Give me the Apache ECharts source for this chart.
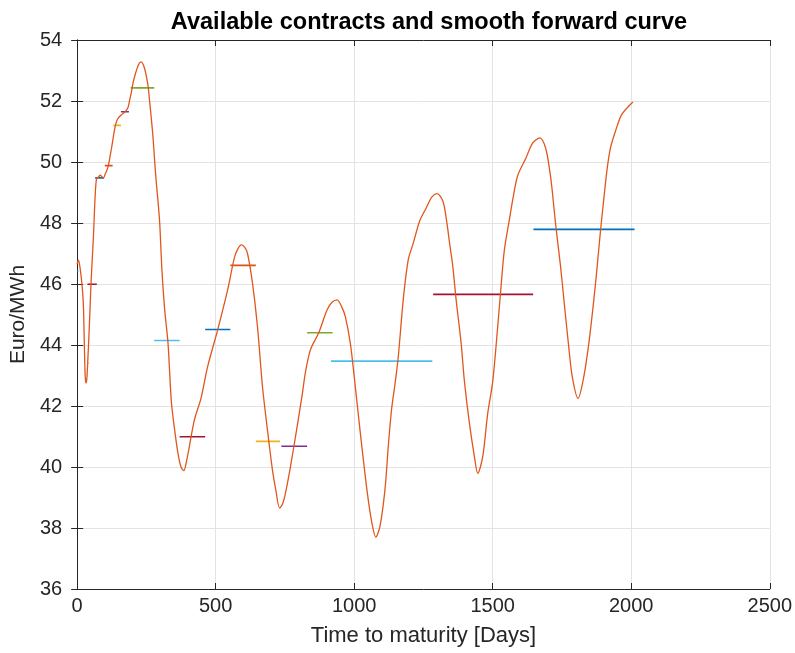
<!DOCTYPE html>
<html>
<head>
<meta charset="utf-8">
<script src="https://cdn.jsdelivr.net/npm/echarts@6/dist/echarts.min.js"></script>
<style>html,body{margin:0;padding:0;background:#fff;}#c{width:795px;height:653px;}</style>
</head>
<body>
<div id="c"></div>
<script>
// Smooth forward curve (days to maturity, EUR/MWh)
const curveDays = [0,4,9,15,20,23,26,29,32,35,39,43,47,50,55,59,63,67,71,77,83,89,95,101,107,113,119,125,131,137,143,149,160,170,178,184,190,196,202,208,214,222,230,237,244,250,256,262,268,274,280,285,291,298,306,316,328,340,352,364,375,385,395,405,423,447,471,507,543,567,580,593,605,615,633,651,669,687,705,717,731,742,752,770,788,812,824,842,872,902,920,938,955,968,986,1000,1021,1046,1064,1078,1093,1111,1123,1135,1147,1159,1177,1195,1213,1237,1261,1280,1299,1320,1333,1345,1356,1368,1386,1398,1416,1434,1446,1464,1482,1500,1518,1530,1542,1560,1572,1590,1620,1644,1670,1691,1706,1715,1727,1745,1757,1773,1787,1808,1829,1847,1865,1877,1889,1900,1912,1925,1943,1966,2006];
const curvePrice = [46.65,46.78,46.62,46.2,45.7,45.2,44.0,43.0,42.75,42.9,43.6,44.4,45.3,46.0,46.9,47.6,48.5,49.2,49.48,49.5,49.57,49.52,49.48,49.6,49.72,49.9,50.2,50.5,50.85,51.15,51.35,51.45,51.55,51.62,51.7,51.8,52.05,52.3,52.6,52.82,53.0,53.2,53.28,53.22,53.05,52.8,52.5,51.95,51.4,50.8,50.0,49.4,48.8,48.0,46.46,45.15,44.06,42.15,41.21,40.45,40.0,39.88,40.2,40.67,41.54,42.25,43.29,44.49,45.8,46.84,47.15,47.28,47.2,47.0,46.02,44.6,42.63,41.21,39.9,39.25,38.65,38.8,39.14,40.01,40.99,42.35,43.1,43.84,44.4,45.15,45.4,45.48,45.25,44.93,44.06,42.97,41.21,39.25,38.16,37.7,38.05,39.25,40.67,41.9,42.7,43.6,45.48,46.79,47.33,48.08,48.51,48.85,48.96,48.72,48.1,47.3,46.57,45.48,44.06,42.8,41.43,40.34,39.79,40.34,41.76,42.8,44.6,45.91,47.11,48.1,48.75,49.55,50.13,50.62,50.79,50.46,49.7,49.05,47.96,46.57,45.48,44.06,42.97,42.25,42.97,44.06,45.48,46.57,47.74,48.7,49.7,50.46,51.01,51.56,51.97];

// Available contracts (delivery start day, end day, price)
const contractStart = [0,31,37,37,65,100,131,158,193,278,370,462,553,645,737,830,916,1285,1647];
const contractEnd   = [4,33,41,71,97,128,158,187,278,370,462,553,645,732,830,922,1282,1646,2012];
const contractPrice = [46.43,42.77,43.4,45.99,49.48,49.88,51.2,51.65,52.43,44.15,40.99,44.51,46.61,40.84,40.68,44.40,43.47,45.66,47.79];
const contractColor = ['#0072BD','#77AC30','#4DBEEE','#A2142F','#0072BD','#D95319','#EDB120','#7E2F8E','#77AC30','#4DBEEE','#A2142F','#0072BD','#D95319','#EDB120','#7E2F8E','#77AC30','#4DBEEE','#A2142F','#0072BD'];

const xTicks = [0,500,1000,1500,2000,2500];
const yTicks = [36,38,40,42,44,46,48,50,52,54];

const chart = echarts.init(document.getElementById('c'), null, {renderer:'canvas'});
const axisCol = '#262626';
const font = 'Liberation Sans, Arial, Helvetica, sans-serif';

const series = [];
for (let i = 0; i < contractStart.length; i++) {
  series.push({
    type:'line', xAxisIndex:0, yAxisIndex:0, showSymbol:false, silent:true,
    data:[[contractStart[i], contractPrice[i]], [contractEnd[i], contractPrice[i]]],
    lineStyle:{color:contractColor[i], width:1.6}, z:2
  });
}
series.push({
  type:'line', xAxisIndex:0, yAxisIndex:0, showSymbol:false, silent:true, smooth:0.3,
  data: curveDays.map((d,i)=>[d, curvePrice[i]]),
  lineStyle:{color:'#E0561C', width:1.3}, z:3
});

chart.setOption({
  animation:false,
  title:{text:'Available contracts and smooth forward curve', left:424, top:6, textAlign:'center',
    textStyle:{fontFamily:font, fontSize:23.5, fontWeight:'bold', color:'#000'}},
  grid:{left:75.5, right:23, top:40, bottom:64},
  xAxis:[{
    type:'value', min:xTicks[0], max:xTicks[xTicks.length-1], interval:500,
    name:'Time to maturity [Days]', nameLocation:'middle', nameGap:36,
    nameTextStyle:{fontFamily:font, fontSize:22, color:axisCol},
    axisLine:{show:true, lineStyle:{color:axisCol, width:1}},
    axisTick:{show:true, inside:true, length:6, lineStyle:{color:axisCol}},
    axisLabel:{fontFamily:font, fontSize:20, color:axisCol, margin:7, formatter:v=>String(v)},
    splitLine:{show:true, lineStyle:{color:'#e3e3e3', width:1}}
  },{
    type:'value', position:'top', min:xTicks[0], max:xTicks[xTicks.length-1], interval:500,
    axisLine:{show:true, lineStyle:{color:axisCol, width:1}},
    axisTick:{show:true, inside:true, length:6, lineStyle:{color:axisCol}},
    axisLabel:{show:false}, splitLine:{show:false}
  }],
  yAxis:[{
    type:'value', min:yTicks[0], max:yTicks[yTicks.length-1], interval:2,
    name:'Euro/MWh', nameLocation:'middle', nameGap:42,
    nameTextStyle:{fontFamily:font, fontSize:21, color:axisCol},
    axisLine:{show:true, lineStyle:{color:axisCol, width:1}},
    axisTick:{show:true, inside:true, length:6, lineStyle:{color:axisCol}},
    axisLabel:{fontFamily:font, fontSize:20, color:axisCol, margin:15, formatter:v=>String(v)},
    splitLine:{show:true, lineStyle:{color:'#e3e3e3', width:1}}
  },{
    type:'value', position:'right', min:yTicks[0], max:yTicks[yTicks.length-1], interval:2,
    axisLine:{show:true, lineStyle:{color:axisCol, width:1}},
    axisTick:{show:true, inside:true, length:6, lineStyle:{color:axisCol}},
    axisLabel:{show:false}, splitLine:{show:false}
  }],
  series: series
});
</script>
</body>
</html>
